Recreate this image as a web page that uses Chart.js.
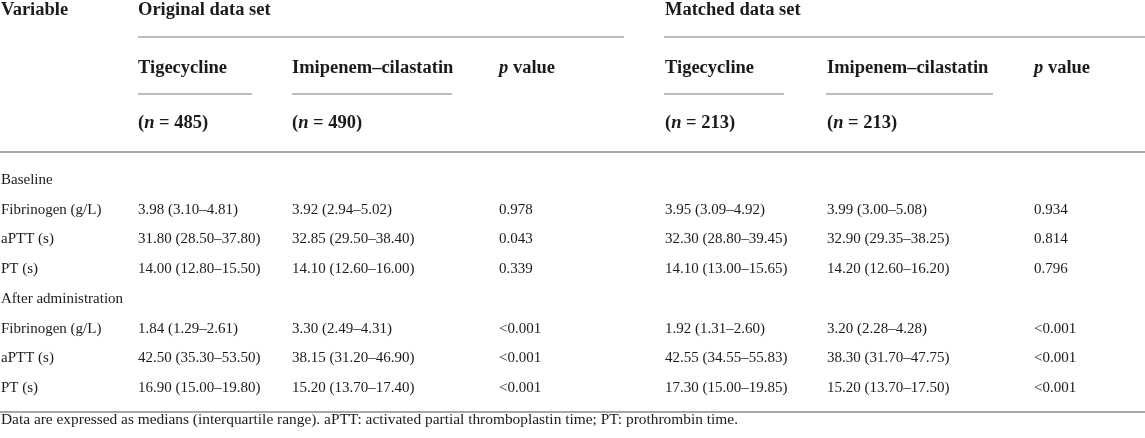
<!DOCTYPE html>
<html>
<head>
<meta charset="utf-8">
<script src="https://cdn.jsdelivr.net/npm/chart.js@4"></script>
<style>
  html, body { margin: 0; padding: 0; background: #fff; }
  #wrap { width: 1145px; height: 438px; position: relative; }
</style>
</head>
<body>
<div id="wrap"><canvas id="c"></canvas></div>
<script>
// ---------- DATA ----------
const variables = ['Baseline', 'Fibrinogen (g/L)', 'aPTT (s)', 'PT (s)',
                   'After administration', 'Fibrinogen (g/L)', 'aPTT (s)', 'PT (s)'];

const groups = ['Original data set', 'Matched data set'];
const drugs = ['Tigecycline', 'Imipenem\u2013cilastatin'];
const groupN = [[485, 490], [213, 213]];

// Original data set
const origTigMedian = [null, 3.98, 31.80, 14.00, null, 1.84, 42.50, 16.90];
const origTigQ1     = [null, 3.10, 28.50, 12.80, null, 1.29, 35.30, 15.00];
const origTigQ3     = [null, 4.81, 37.80, 15.50, null, 2.61, 53.50, 19.80];
const origImiMedian = [null, 3.92, 32.85, 14.10, null, 3.30, 38.15, 15.20];
const origImiQ1     = [null, 2.94, 29.50, 12.60, null, 2.49, 31.20, 13.70];
const origImiQ3     = [null, 5.02, 38.40, 16.00, null, 4.31, 46.90, 17.40];
const origP         = [null, '0.978', '0.043', '0.339', null, '<0.001', '<0.001', '<0.001'];

// Matched data set
const matTigMedian = [null, 3.95, 32.30, 14.10, null, 1.92, 42.55, 17.30];
const matTigQ1     = [null, 3.09, 28.80, 13.00, null, 1.31, 34.55, 15.00];
const matTigQ3     = [null, 4.92, 39.45, 15.65, null, 2.60, 55.83, 19.85];
const matImiMedian = [null, 3.99, 32.90, 14.20, null, 3.20, 38.30, 15.20];
const matImiQ1     = [null, 3.00, 29.35, 12.60, null, 2.28, 31.70, 13.70];
const matImiQ3     = [null, 5.08, 38.25, 16.20, null, 4.28, 47.75, 17.50];
const matP         = [null, '0.934', '0.814', '0.796', null, '<0.001', '<0.001', '<0.001'];

const footnote = 'Data are expressed as medians (interquartile range). aPTT: activated partial thromboplastin time; PT: prothrombin time.';

// ---------- LAYOUT / STYLE ----------
const FAM = '"Liberation Serif", "Times New Roman", serif';
const BODY_FONT = '15px ' + FAM;
const HEAD_FONT = 'bold 18.5px ' + FAM;
const HEAD_IT_FONT = 'italic bold 18.5px ' + FAM;
const FOOT_FONT = '15.4px ' + FAM;
const TEXT_COLOR = '#1e1a1b';
const LINE_COLOR = '#a8a8a8';
const colX = [1, 138, 292, 499, 665, 827, 1034];   // column left edges
const underline = [[138, 252], [292, 452], [664, 784], [826, 993]];
const groupLine = [[138, 624], [664, 1145]];

function fmtCell(m, q1, q3) {
  if (m === null) return '';
  return m.toFixed(2) + ' (' + q1.toFixed(2) + '\u2013' + q3.toFixed(2) + ')';
}

const columns = [
  variables,
  origTigMedian.map((m, i) => fmtCell(m, origTigQ1[i], origTigQ3[i])),
  origImiMedian.map((m, i) => fmtCell(m, origImiQ1[i], origImiQ3[i])),
  origP.map(v => v === null ? '' : v),
  matTigMedian.map((m, i) => fmtCell(m, matTigQ1[i], matTigQ3[i])),
  matImiMedian.map((m, i) => fmtCell(m, matImiQ1[i], matImiQ3[i])),
  matP.map(v => v === null ? '' : v)
];

function runs(ctx, x, y, parts) {
  let cx = x;
  parts.forEach(p => {
    ctx.font = p.f;
    ctx.fillText(p.t, cx, y);
    cx += ctx.measureText(p.t).width;
  });
}

function hline(ctx, x1, x2, y, w) {
  ctx.save();
  ctx.strokeStyle = LINE_COLOR;
  ctx.lineWidth = w;
  ctx.beginPath();
  ctx.moveTo(x1, y);
  ctx.lineTo(x2, y);
  ctx.stroke();
  ctx.restore();
}

const tablePlugin = {
  id: 'tableText',
  afterDraw(chart) {
    const ctx = chart.ctx;
    const ys = chart.scales.y;
    const xs = chart.scales.x;
    const area = chart.chartArea;
    ctx.save();
    ctx.fillStyle = TEXT_COLOR;
    ctx.textBaseline = 'alphabetic';
    ctx.textAlign = 'left';

    // header rows (positioned above the body area)
    const top = area.top;
    const h1 = top - 149, h2 = top - 91, h3 = top - 36;
    ctx.font = HEAD_FONT;
    ctx.fillText('Variable', xs.getPixelForValue(colX[0]), h1);
    ctx.fillText(groups[0], xs.getPixelForValue(colX[1]), h1);
    ctx.fillText(groups[1], xs.getPixelForValue(colX[4]), h1);
    hline(ctx, xs.getPixelForValue(groupLine[0][0]), xs.getPixelForValue(groupLine[0][1]), top - 127, 1.5);
    hline(ctx, xs.getPixelForValue(groupLine[1][0]), xs.getPixelForValue(groupLine[1][1]), top - 127, 1.5);

    [[1, 2, 3], [4, 5, 6]].forEach((cols, g) => {
      ctx.font = HEAD_FONT;
      ctx.fillText(drugs[0], xs.getPixelForValue(colX[cols[0]]), h2);
      ctx.fillText(drugs[1], xs.getPixelForValue(colX[cols[1]]), h2);
      runs(ctx, xs.getPixelForValue(colX[cols[2]]), h2, [{t: 'p', f: HEAD_IT_FONT}, {t: ' value', f: HEAD_FONT}]);
      runs(ctx, xs.getPixelForValue(colX[cols[0]]), h3, [{t: '(', f: HEAD_FONT}, {t: 'n', f: HEAD_IT_FONT}, {t: ' = ' + groupN[g][0] + ')', f: HEAD_FONT}]);
      runs(ctx, xs.getPixelForValue(colX[cols[1]]), h3, [{t: '(', f: HEAD_FONT}, {t: 'n', f: HEAD_IT_FONT}, {t: ' = ' + groupN[g][1] + ')', f: HEAD_FONT}]);
    });
    underline.forEach(u => hline(ctx, xs.getPixelForValue(u[0]), xs.getPixelForValue(u[1]), top - 70, 1.5));
    hline(ctx, area.left, area.right, top - 12, 2);

    // body
    ctx.font = BODY_FONT;
    variables.forEach((v, i) => {
      const y = ys.getPixelForValue(i) + 5;
      columns.forEach((col, c) => {
        const t = col[i];
        if (t) ctx.fillText(t, xs.getPixelForValue(colX[c]), y);
      });
    });

    // bottom rule and footnote
    const bottom = area.bottom;
    hline(ctx, area.left, area.right, bottom + 10, 2);
    ctx.font = FOOT_FONT;
    ctx.fillText(footnote, xs.getPixelForValue(colX[0]), bottom + 22);
    ctx.restore();
  }
};

new Chart(document.getElementById('c'), {
  type: 'scatter',
  data: { datasets: [] },
  options: {
    responsive: true,
    maintainAspectRatio: false,
    animation: false,
    events: [],
    layout: { padding: { top: 164, bottom: 36, left: 0, right: 0 } },
    plugins: { legend: { display: false }, tooltip: { enabled: false }, title: { display: false } },
    scales: {
      x: { type: 'linear', min: 0, max: 1145, display: false },
      y: { type: 'category', labels: variables, offset: true, display: false }
    }
  },
  plugins: [tablePlugin]
});
</script>
</body>
</html>
